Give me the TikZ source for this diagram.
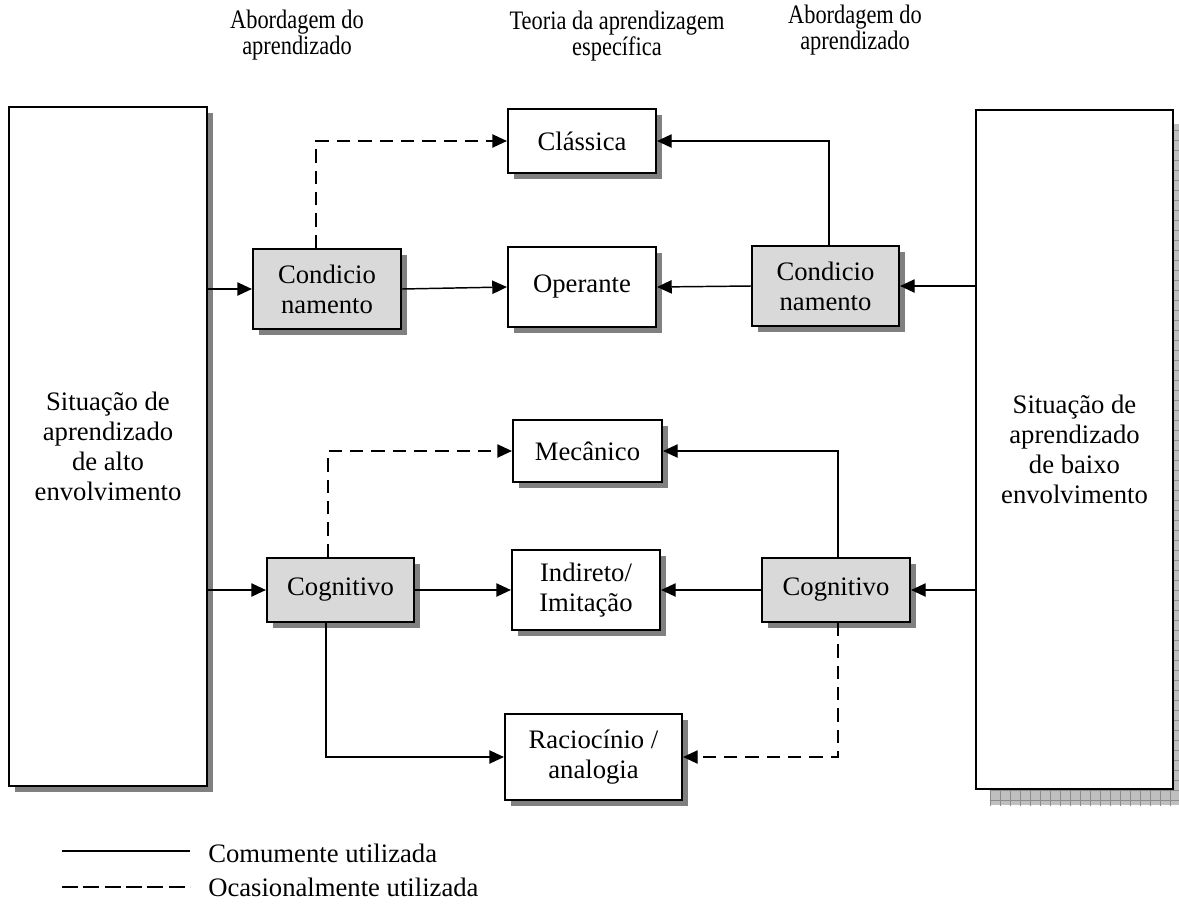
\documentclass[tikz,border=0pt]{standalone}
\usepackage{fontspec}
\setmainfont{Liberation Serif}
\usetikzlibrary{arrows.meta,shadows,backgrounds}
\tikzset{
  boxbase/.style={draw=black, line width=1.6pt, align=center, inner sep=0pt,
    font=\fontsize{20}{22.5}\selectfont},
  wbox/.style={boxbase, fill=white,
    drop shadow={shadow xshift=4.5pt, shadow yshift=-4.5pt, fill=black!50, opacity=1}},
  gbox/.style={boxbase, fill=black!15,
    drop shadow={shadow xshift=4.5pt, shadow yshift=-4.5pt, fill=black!50, opacity=1}},
  bigbox/.style={boxbase, fill=white},
  conn/.style={line width=1.1pt, -{Triangle[length=11pt,width=10pt]}},
  dconn/.style={conn, dash pattern=on 10pt off 6pt},
  head/.style={align=center, font=\fontsize{20}{19.5}\selectfont, xscale=0.84, transform shape},
  legtext/.style={anchor=west, font=\fontsize{20}{24}\selectfont, inner sep=0pt},
}
\begin{document}
\begin{tikzpicture}[x=0.75pt,y=-0.75pt]
\useasboundingbox (0,0) rectangle (1179,904);

% headers
\node[head] (h1) at (297,35) {Abordagem do\\aprendizado};
\node[head] (h2) at (617,36) {Teoria da aprendizagem\\específica};
\node[head] (h3) at (855,30) {Abordagem do\\aprendizado};

% big boxes
\node[bigbox, minimum width=148.5pt, minimum height=509pt,
  drop shadow={shadow xshift=4.5pt, shadow yshift=-4.5pt, fill=black!50, opacity=1}]
  (left) at (108,446.5) {Situação de\\aprendizado\\de alto\\envolvimento};
\node[bigbox, minimum width=147.75pt, minimum height=509.25pt]
  (right) at (1074.5,449.5) {Situação de\\aprendizado\\de baixo\\envolvimento};
\begin{scope}[on background layer]
  \fill[black!25] ([xshift=11.25pt,yshift=-11.25pt]right.north west) rectangle ([xshift=11.25pt,yshift=-11.25pt]right.south east);
  \begin{scope}
    \clip ([xshift=11.25pt,yshift=-11.25pt]right.north west) rectangle ([xshift=11.25pt,yshift=-11.25pt]right.south east);
    \draw[black!45, line width=0.5pt, step=7.5pt] (960,100) grid (1190,810);
  \end{scope}
\end{scope}

% small boxes
\node[wbox, minimum width=111pt, minimum height=48pt] (clas) at (582,141) {Clássica};
\node[gbox, minimum width=111pt, minimum height=60pt] (condL) at (327,289) {Condicio\\namento};
\node[wbox, minimum width=111pt, minimum height=60pt] (oper) at (582,287) {Operante};
\node[gbox, minimum width=110.25pt, minimum height=60pt] (condR) at (825.5,286) {Condicio\\namento};
\node[wbox, minimum width=111.75pt, minimum height=46.5pt] (mec) at (587.5,451) {Mecânico};
\node[gbox, minimum width=110.25pt, minimum height=48pt] (cogL) at (340.5,590) {Cognitivo};
\node[wbox, minimum width=111pt, minimum height=60pt] (ind) at (586,590) {Indireto/\\Imitação};
\node[gbox, minimum width=111pt, minimum height=48pt] (cogR) at (836,590) {Cognitivo};
\node[wbox, minimum width=132.75pt, minimum height=64.5pt] (rac) at (593.5,757) {Raciocínio /\\analogia};

% connectors
\draw[conn] (left.east |- condL.west) -- (condL.west);
\draw[conn] (condL.east) -- (oper.west);
\draw[dconn] ([xshift=-8.25pt]condL.north) |- (clas.west);
\draw[conn] (right.west |- condR.east) -- (condR.east);
\draw[conn] (condR.west) -- (oper.east);
\draw[conn] ([xshift=2.6pt]condR.north) |- (clas.east);

\draw[conn] (left.east |- cogL.west) -- (cogL.west);
\draw[conn] (cogL.east) -- (ind.west);
\draw[dconn] ([xshift=-9.4pt]cogL.north) |- (mec.west);
\draw[conn] ([xshift=-10.9pt]cogL.south) |- (rac.west);
\draw[conn] (right.west |- cogR.east) -- (cogR.east);
\draw[conn] (cogR.west) -- (ind.east);
\draw[conn] ([xshift=1.5pt]cogR.north) |- (mec.east);
\draw[dconn] ([xshift=1.5pt]cogR.south) |- (rac.east);

% legend
\coordinate (l1a) at (62,851);
\coordinate (l1b) at (190,851);
\coordinate (l2a) at (62,887);
\coordinate (l2b) at (190,887);
\draw[line width=1.1pt] (l1a) -- (l1b);
\draw[line width=1.1pt, dash pattern=on 12pt off 4pt] (l2a) -- (l2b);
\node[legtext] (t1) at (208,853) {Comumente utilizada};
\node[legtext] (t2) at (208,887) {Ocasionalmente utilizada};
\end{tikzpicture}
\end{document}
